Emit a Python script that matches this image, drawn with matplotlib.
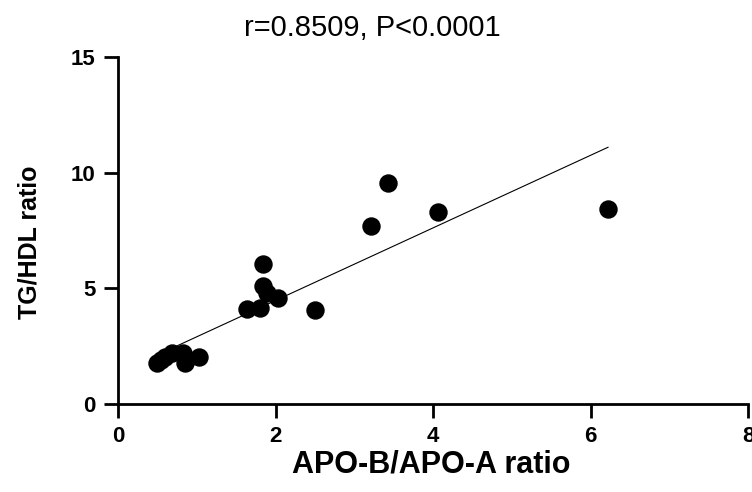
import matplotlib.pyplot as plt

# data
apo_ratio = [0.50, 0.55, 0.60, 0.69, 0.83, 0.85, 1.03,
             1.64, 1.80, 1.84, 1.89, 2.03, 1.84, 2.50,
             3.21, 3.43, 4.06, 6.22]
tg_hdl = [1.78, 1.90, 2.03, 2.20, 2.20, 1.77, 2.03,
          4.10, 4.15, 5.10, 4.80, 4.58, 6.05, 4.06,
          7.70, 9.55, 8.30, 8.45]

fit_x = [0.50, 6.22]
fit_y = [2.12, 11.10]

plt.rcParams['font.family'] = ['Liberation Sans', 'DejaVu Sans']

fig = plt.figure(figsize=(7.52, 4.92), dpi=100)
ax = fig.add_axes([0.157, 0.179, 0.838, 0.705])

ax.plot(fit_x, fit_y, color='black', linewidth=0.8)
ax.scatter(apo_ratio, tg_hdl, s=150, color='black', zorder=3)

ax.set_xlim(0, 8)
ax.set_ylim(0, 15)
ax.set_xticks([0, 2, 4, 6, 8])
ax.set_yticks([0, 5, 10, 15])

for side in ['top', 'right']:
    ax.spines[side].set_visible(False)
for side in ['left', 'bottom']:
    ax.spines[side].set_linewidth(2)

ax.tick_params(width=2, length=10, labelsize=16, pad=6)
for lab in ax.get_xticklabels() + ax.get_yticklabels():
    lab.set_fontweight('bold')

ax.set_xlabel('APO-B/APO-A ratio', fontsize=22, fontweight='bold', va='center')
ax.xaxis.set_label_coords(0.497, -0.176)
ax.set_ylabel('TG/HDL ratio', fontsize=18, fontweight='bold', va='center')
ax.yaxis.set_label_coords(-0.14, 0.467)
fig.text(372 / 752, 1 - 28 / 492, 'r=0.8509, P<0.0001', fontsize=21,
         ha='center', va='center')

fig.savefig('out.png', dpi=100)
